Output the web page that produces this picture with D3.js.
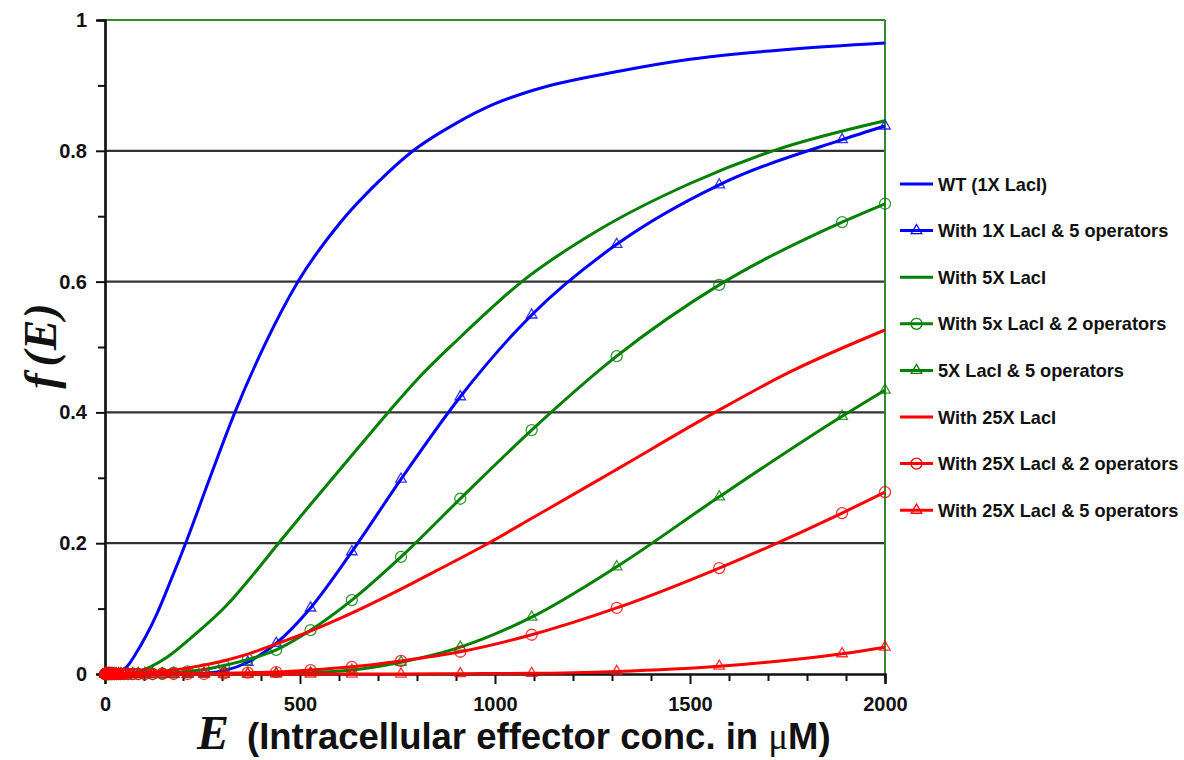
<!DOCTYPE html>
<html><head><meta charset="utf-8">
<script src="https://cdn.jsdelivr.net/npm/d3@7"></script>
<style>body{margin:0;background:#fff} svg{display:block}</style>
</head><body><svg id="c" width="1184" height="760"></svg>
<script>
// ---------- data ----------
const xMajorTicks = [0, 500, 1000, 1500, 2000];
const xMinorTicks = [100, 200, 300, 400, 600, 700, 800, 900, 1100, 1200, 1300, 1400, 1600, 1700, 1800, 1900];
const yMajorTicks = [0, 0.2, 0.4, 0.6, 0.8, 1];
const yMinorTicks = [0.1, 0.3, 0.5, 0.7, 0.9];
const yTickLabels = ["0", "0.2", "0.4", "0.6", "0.8", "1"];
const gridValues = [0.2, 0.4, 0.6, 0.8];

const seriesNames = ["WT (1X LacI)", "With 1X LacI & 5 operators", "With 5X LacI", "With 5x LacI & 2 operators",
  "5X LacI & 5 operators", "With 25X LacI", "With 25X LacI & 2 operators", "With 25X LacI & 5 operators"];

// curves without markers
const wtE   = [0, 20, 40, 60, 80, 105, 133, 170, 210, 269, 333, 415, 495, 603, 700, 790, 900, 1000, 1100, 1321, 1500, 1750, 2000];
const wtF   = [0, 0, 0.003, 0.014, 0.032, 0.058, 0.092, 0.145, 0.205, 0.3, 0.4, 0.51, 0.6, 0.69, 0.752, 0.8, 0.842, 0.872, 0.893, 0.922, 0.94, 0.955, 0.965];
const x5E   = [0, 40, 77, 120, 160, 220, 312, 380, 449, 528, 603, 726, 800, 902, 1069, 1269, 1500, 1713, 2000];
const x5F   = [0, 0, 0.002, 0.012, 0.026, 0.055, 0.105, 0.152, 0.203, 0.26, 0.313, 0.4, 0.45, 0.51, 0.6, 0.68, 0.75, 0.8, 0.846];
const x25E  = [0, 60, 100, 210, 303, 364, 439, 528, 603, 750, 850, 983, 1100, 1269, 1321, 1564, 1750, 2000];
const x25F  = [0, 0, 0.002, 0.009, 0.02, 0.03, 0.046, 0.066, 0.085, 0.127, 0.158, 0.2, 0.24, 0.298, 0.316, 0.4, 0.46, 0.526];

// curves with markers (sampled at marker positions)
const markerE = [0, 1, 2, 3, 4, 6, 8, 10, 12, 14, 17, 20, 24, 29, 35, 41, 49, 59, 71, 85, 102, 122, 147, 176, 212, 254, 305, 366, 439, 527, 633, 759, 911, 1094, 1312, 1575, 1890, 2000];
const x1op5F  = [0,0,0,0,0,0,0,0,0,0,0,0,0,0,0,0,0,0,0,0,0,0,0,0,0, 0.001, 0.005, 0.018, 0.047, 0.101, 0.187, 0.298, 0.424, 0.549, 0.657, 0.748, 0.817, 0.838];
const x5op2F  = [0,0,0,0,0,0,0,0,0,0,0,0,0,0,0,0,0,0,0,0,0,0, 0.001, 0.002, 0.004, 0.007, 0.013, 0.022, 0.037, 0.067, 0.113, 0.179, 0.268, 0.373, 0.486, 0.595, 0.691, 0.719];
const x5op5F  = [0,0,0,0,0,0,0,0,0,0,0,0,0,0,0,0,0,0,0,0,0,0,0,0,0,0,0,0, 0.001, 0.002, 0.006, 0.018, 0.041, 0.087, 0.164, 0.271, 0.394, 0.434];
const x25op2F = [0,0,0,0,0,0,0,0,0,0,0,0,0,0,0,0,0,0,0,0,0,0,0,0,0,0, 0.001, 0.002, 0.003, 0.006, 0.011, 0.02, 0.034, 0.06, 0.101, 0.162, 0.246, 0.278];
const x25op5F = [0,0,0,0,0,0,0,0,0,0,0,0,0,0,0,0,0,0,0,0,0,0,0,0,0,0,0,0,0,0,0,0, 0.0005, 0.001, 0.004, 0.012, 0.031, 0.041];

const seriesColors = ["#0000ff", "#0000ff", "#008000", "#008000", "#008000", "#ff0000", "#ff0000", "#ff0000"];
const seriesMarkers = ["none", "triangle", "none", "circle", "triangle", "none", "circle", "triangle"];

const series = [
  {E: wtE, F: wtF}, {E: markerE, F: x1op5F}, {E: x5E, F: x5F}, {E: markerE, F: x5op2F},
  {E: markerE, F: x5op5F}, {E: x25E, F: x25F}, {E: markerE, F: x25op2F}, {E: markerE, F: x25op5F}
].map((s, i) => ({name: seriesNames[i], color: seriesColors[i], marker: seriesMarkers[i],
  pts: s.E.map((e, j) => [e, s.F[j]])}));

// ---------- layout ----------
const svg = d3.select("#c");
const L = 105, R = 885, T = 20, B = 674;
const x = d3.scaleLinear().domain([0, 2000]).range([L, R]);
const y = d3.scaleLinear().domain([0, 1]).range([B, T]);
const sans = "'Liberation Sans', Arial, sans-serif";
const serif = "'Liberation Serif', 'Times New Roman', serif";

// gridlines
svg.append("g").selectAll("line").data(gridValues).join("line")
  .attr("x1", L).attr("x2", R).attr("y1", d => y(d)).attr("y2", d => y(d))
  .attr("stroke", "#333").attr("stroke-width", 2.2);
// top + right frame (green)
svg.append("line").attr("x1", L).attr("x2", R).attr("y1", y(1)).attr("y2", y(1)).attr("stroke", "#2e8b2e").attr("stroke-width", 2);
svg.append("line").attr("x1", R).attr("x2", R).attr("y1", y(1)).attr("y2", y(0)).attr("stroke", "#2e8b2e").attr("stroke-width", 2);

// x axis
const xAxis = svg.append("g").attr("transform", `translate(0,${B})`);
xAxis.call(d3.axisBottom(x).tickValues(xMinorTicks).tickSize(7).tickFormat(""));
const xAxisMaj = svg.append("g").attr("transform", `translate(0,${B})`);
xAxisMaj.call(d3.axisBottom(x).tickValues(xMajorTicks).tickSize(10).tickPadding(13).tickFormat(d3.format("d")));
[xAxis, xAxisMaj].forEach(g => {
  g.select(".domain").attr("stroke", "#111").attr("stroke-width", 2.2);
  g.selectAll(".tick line").attr("stroke", "#111").attr("stroke-width", 2);
});
xAxisMaj.selectAll(".tick text").attr("font-family", sans).attr("font-weight", "bold").attr("font-size", 20).attr("fill", "#111");

// y axis
const yAxis = svg.append("g").attr("transform", `translate(${L},0)`);
yAxis.call(d3.axisLeft(y).tickValues(yMinorTicks).tickSize(7).tickFormat(""));
const yAxisMaj = svg.append("g").attr("transform", `translate(${L},0)`);
yAxisMaj.call(d3.axisLeft(y).tickValues(yMajorTicks).tickSize(9).tickPadding(9).tickFormat((d, i) => yTickLabels[i]));
[yAxis, yAxisMaj].forEach(g => {
  g.select(".domain").attr("stroke", "#111").attr("stroke-width", 2.2);
  g.selectAll(".tick line").attr("stroke", "#111").attr("stroke-width", 2);
});
yAxisMaj.selectAll(".tick text").attr("font-family", sans).attr("font-weight", "bold").attr("font-size", 20).attr("fill", "#111");

// curves
const line = d3.line().x(d => x(d[0])).y(d => y(d[1])).curve(d3.curveMonotoneX);
const tri = d3.symbol().type(d3.symbolTriangle).size(48);
const plot = svg.append("g");
series.forEach(s => {
  plot.append("path").attr("d", line(s.pts)).attr("fill", "none").attr("stroke", s.color).attr("stroke-width", 3);
  if (s.marker === "circle") {
    plot.append("g").selectAll("circle").data(s.pts).join("circle")
      .attr("cx", d => x(d[0])).attr("cy", d => y(d[1])).attr("r", 5.5)
      .attr("fill", "none").attr("stroke", s.color).attr("stroke-width", 1.3).attr("opacity", 0.8);
  } else if (s.marker === "triangle") {
    plot.append("g").selectAll("path").data(s.pts).join("path")
      .attr("d", tri).attr("transform", d => `translate(${x(d[0])},${y(d[1])})`)
      .attr("fill", "none").attr("stroke", s.color).attr("stroke-width", 1.3).attr("opacity", 0.8);
  }
});

// legend
const legend = svg.append("g");
series.forEach((s, i) => {
  const ly = 184 + i * 46.6;
  legend.append("line").attr("x1", 900).attr("x2", 933).attr("y1", ly).attr("y2", ly).attr("stroke", s.color).attr("stroke-width", 3);
  if (s.marker === "circle") {
    legend.append("circle").attr("cx", 916.5).attr("cy", ly).attr("r", 5.5).attr("fill", "none").attr("stroke", s.color).attr("stroke-width", 1.3);
  } else if (s.marker === "triangle") {
    legend.append("path").attr("d", tri).attr("transform", `translate(916.5,${ly})`).attr("fill", "none").attr("stroke", s.color).attr("stroke-width", 1.3);
  }
  legend.append("text").attr("x", 938).attr("y", ly).attr("dy", "0.36em")
    .attr("font-family", sans).attr("font-weight", "bold").attr("font-size", 18.2).attr("fill", "#111").text(s.name);
});

// axis titles
const yl = svg.append("text").attr("transform", "translate(56,346) rotate(-90)").attr("text-anchor", "middle")
  .attr("font-family", serif).attr("font-style", "italic").attr("font-weight", "bold").attr("font-size", 46).attr("fill", "#111");
yl.append("tspan").text("f");
yl.append("tspan").attr("dx", 7).text("(");
yl.append("tspan").attr("dx", 1).text("E");
yl.append("tspan").attr("dx", 1).text(")");

const xlE = svg.append("text").attr("x", 197).attr("y", 749).attr("fill", "#111")
  .attr("font-family", serif).attr("font-style", "italic").attr("font-weight", "bold").attr("font-size", 48).text("E");
const xl = svg.append("text").attr("x", 247).attr("y", 749).attr("fill", "#111");
xl.append("tspan").attr("font-family", sans).attr("font-weight", "bold").attr("font-size", 36.5).text("(Intracellular effector conc. in ");
xl.append("tspan").attr("font-family", serif).attr("font-size", 37).text("μ");
xl.append("tspan").attr("font-family", sans).attr("font-weight", "bold").attr("font-size", 36.5).text("M)");
</script>
</body></html>
